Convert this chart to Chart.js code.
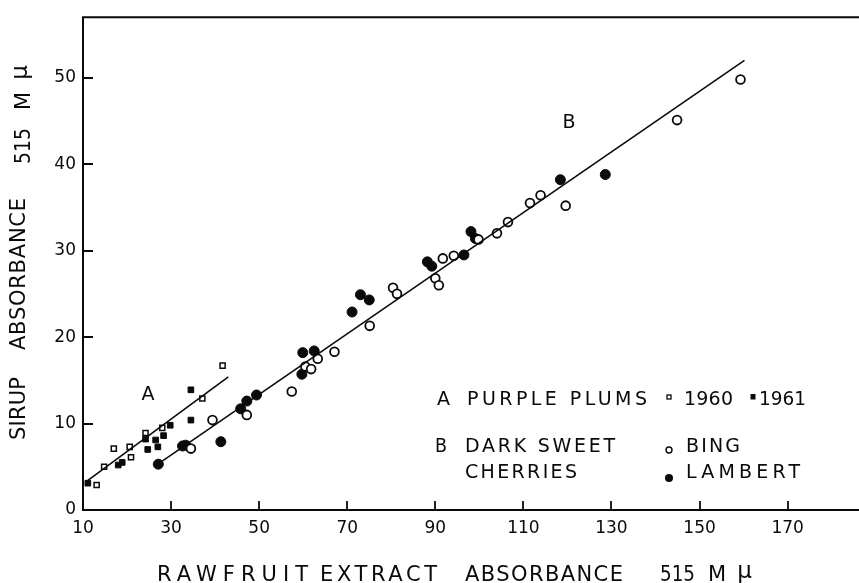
<!DOCTYPE html>
<html>
<head>
<meta charset="utf-8">
<script src="https://cdn.jsdelivr.net/npm/chart.js@4.4.0/dist/chart.umd.min.js"></script>
<style>
  html, body { margin: 0; padding: 0; background: #ffffff; }
  #wrap { width: 859px; height: 583px; position: relative; }
</style>
</head>
<body>
<div id="wrap"><canvas id="c" width="859" height="583"></canvas></div>
<script>
// ---- Data ----
const xTicks = [10, 30, 50, 70, 90, 110, 130, 150, 170];
const yTicks = [0, 10, 20, 30, 40, 50];

// A  Purple plums, 1960 (open squares)
const plums1960X = [13.1, 14.8, 17.0, 20.6, 20.9, 24.2, 28.0, 37.1, 41.7];
const plums1960Y = [2.9, 5.0, 7.1, 7.3, 6.1, 8.9, 9.5, 12.9, 16.7];

// A  Purple plums, 1961 (filled squares)
const plums1961X = [11.1, 18.0, 18.9, 24.2, 24.7, 26.5, 27.0, 28.3, 29.8, 34.5, 34.5];
const plums1961Y = [3.1, 5.2, 5.5, 8.2, 7.0, 8.1, 7.3, 8.6, 9.8, 13.9, 10.4];

// B  Dark sweet cherries, Bing (open circles)
const bingX = [34.5, 39.4, 47.2, 57.4, 60.5, 61.8, 63.3, 67.1, 75.1, 80.4, 81.3, 90.0, 90.8, 91.7, 94.2, 99.8, 104.0, 106.5, 111.5, 113.9, 119.6, 144.9, 159.3];
const bingY = [7.1, 10.4, 11.0, 13.7, 16.6, 16.3, 17.5, 18.3, 21.3, 25.7, 25.0, 26.8, 26.0, 29.1, 29.4, 31.3, 32.0, 33.3, 35.5, 36.4, 35.2, 45.1, 49.8];

// B  Dark sweet cherries, Lambert (filled circles)
const lambertX = [27.1, 32.6, 33.3, 41.3, 45.8, 47.2, 49.4, 59.7, 59.9, 62.5, 71.1, 73.0, 75.0, 88.2, 89.2, 96.5, 98.1, 99.1, 118.4, 128.6];
const lambertY = [5.3, 7.4, 7.5, 7.9, 11.7, 12.6, 13.3, 15.7, 18.2, 18.4, 22.9, 24.9, 24.3, 28.7, 28.2, 29.5, 32.2, 31.4, 38.2, 38.8];

// Fitted lines
const lineAX = [10.5, 43.0];
const lineAY = [3.2, 15.4];
const lineBX = [27.0, 160.2];
const lineBY = [5.3, 52.0];

const pts = (xs, ys) => xs.map((x, i) => ({ x: x, y: ys[i] }));

const FONT = '"DejaVu Sans", "Liberation Sans", sans-serif';
const INK = '#0a0a0a';

function drawFit(ctx, text, x0, x1, y) {
  ctx.letterSpacing = '0px';
  const w = ctx.measureText(text).width;
  const n = text.length;
  const target = x1 - x0;
  ctx.textAlign = 'left';
  if (w >= target || n < 2) {
    ctx.save();
    ctx.translate(x0, y);
    ctx.scale(Math.min(1, target / w), 1);
    ctx.fillText(text, 0, 0);
    ctx.restore();
    return;
  }
  const ls = (target - w) / (n - 1);
  ctx.letterSpacing = ls.toFixed(2) + 'px';
  ctx.fillText(text, x0, y);
  ctx.letterSpacing = '0px';
}

// "Mμ" unit with the mu raised to cap height like the original lettering
function drawMu(ctx, x0, x1, y, size) {
  ctx.font = size + 'px ' + FONT;
  const mw = ctx.measureText('M').width;
  ctx.textAlign = 'left';
  ctx.fillText('M', x0, y);
  ctx.font = (size + 2) + 'px ' + FONT;
  const uw = ctx.measureText('μ').width;
  ctx.fillText('μ', x1 - uw, y - 4);
  ctx.font = size + 'px ' + FONT;
}

const framePlugin = {
  id: 'frame',
  beforeDraw(chart) {
    const ctx = chart.ctx;
    ctx.save();
    ctx.fillStyle = '#ffffff';
    ctx.fillRect(0, 0, chart.width, chart.height);
    ctx.restore();
  },
  afterDraw(chart) {
    const ctx = chart.ctx;
    const a = chart.chartArea;
    const xs = chart.scales.x, ys = chart.scales.y;
    const W = chart.width;
    ctx.save();
    ctx.strokeStyle = INK;
    ctx.lineWidth = 2;
    ctx.lineCap = 'square';
    ctx.beginPath();
    ctx.moveTo(a.left, a.top); ctx.lineTo(W, a.top);
    ctx.moveTo(a.left, a.top); ctx.lineTo(a.left, a.bottom);
    ctx.moveTo(a.left, a.bottom); ctx.lineTo(W, a.bottom);
    ctx.stroke();
    ctx.lineWidth = 1.8;
    ctx.lineCap = 'butt';
    ctx.beginPath();
    xTicks.forEach(v => {
      const px = Math.round(xs.getPixelForValue(v));
      ctx.moveTo(px, a.bottom); ctx.lineTo(px, a.bottom - 9);
    });
    yTicks.forEach(v => {
      const py = Math.round(ys.getPixelForValue(v));
      ctx.moveTo(a.left, py); ctx.lineTo(a.left + 10, py);
    });
    ctx.stroke();

    // Axis titles
    ctx.fillStyle = INK;
    ctx.textBaseline = 'middle';
    ctx.font = '21px ' + FONT;
    drawFit(ctx, 'RAWFRUIT', 157, 308, 576);
    drawFit(ctx, 'EXTRACT', 320, 437, 576);
    drawFit(ctx, 'ABSORBANCE', 465, 623, 576);
    drawFit(ctx, '515', 660, 695, 576);
    drawMu(ctx, 708, 752, 576, 21);

    ctx.save();
    ctx.translate(20, 0);
    ctx.rotate(-Math.PI / 2);
    ctx.font = '21px ' + FONT;
    drawFit(ctx, 'SIRUP', -440, -377, 0);
    drawFit(ctx, 'ABSORBANCE', -350, -198, 0);
    ctx.restore();
    ctx.save();
    ctx.translate(25, 0);
    ctx.rotate(-Math.PI / 2);
    ctx.font = '21px ' + FONT;
    drawFit(ctx, '515', -164, -128, 0);
    drawMu(ctx, -110, -65, 0, 21);
    ctx.restore();

    // Curve labels
    ctx.font = '19px ' + FONT;
    ctx.textAlign = 'center';
    ctx.fillText('A', 148, 395);
    ctx.fillText('B', 569, 123);

    // Legend
    ctx.font = '19px ' + FONT;
    drawFit(ctx, 'A', 437, 450, 400);
    drawFit(ctx, 'PURPLE PLUMS', 467, 647, 400);
    drawFit(ctx, '1960', 684, 733, 400);
    drawFit(ctx, '1961', 759, 806, 400);
    drawFit(ctx, 'B', 435, 447, 447);
    drawFit(ctx, 'DARK SWEET', 465, 615, 447);
    drawFit(ctx, 'CHERRIES', 465, 577, 473);
    drawFit(ctx, 'BING', 686, 740, 447);
    drawFit(ctx, 'LAMBERT', 686, 800, 473);

    // Legend markers
    ctx.lineWidth = 1.3;
    ctx.strokeStyle = INK;
    ctx.strokeRect(667, 395, 4, 4);
    ctx.fillRect(750.5, 394, 5, 5.5);
    ctx.beginPath();
    ctx.arc(669, 450, 3, 0, Math.PI * 2);
    ctx.lineWidth = 1.4;
    ctx.stroke();
    ctx.beginPath();
    ctx.arc(669, 478, 4, 0, Math.PI * 2);
    ctx.fill();
    ctx.restore();
  }
};

const lineStyle = { type: 'line', borderColor: INK, borderWidth: 1.6, pointRadius: 0, fill: false, showLine: true, tension: 0 };

new Chart(document.getElementById('c'), {
  type: 'scatter',
  data: {
    datasets: [
      Object.assign({ label: 'Line A', data: pts(lineAX, lineAY) }, lineStyle),
      Object.assign({ label: 'Line B', data: pts(lineBX, lineBY) }, lineStyle),
      { label: '1960', data: pts(plums1960X, plums1960Y), pointStyle: 'rect', pointRadius: 3.6, backgroundColor: '#ffffff', borderColor: INK, borderWidth: 1.5 },
      { label: '1961', data: pts(plums1961X, plums1961Y), pointStyle: 'rect', pointRadius: 4.0, backgroundColor: INK, borderColor: INK, borderWidth: 1 },
      { label: 'Bing', data: pts(bingX, bingY), pointStyle: 'circle', pointRadius: 4.4, backgroundColor: '#ffffff', borderColor: INK, borderWidth: 1.8 },
      { label: 'Lambert', data: pts(lambertX, lambertY), pointStyle: 'circle', pointRadius: 5, backgroundColor: INK, borderColor: INK, borderWidth: 1 }
    ]
  },
  options: {
    responsive: false,
    animation: false,
    devicePixelRatio: 1,
    layout: { padding: { top: 14, right: 0, bottom: 0, left: 0 } },
    plugins: { legend: { display: false }, tooltip: { enabled: false }, title: { display: false } },
    elements: { point: { hoverRadius: 0 } },
    scales: {
      x: {
        type: 'linear', min: 10, max: 184.8,
        grid: { display: false, drawTicks: false },
        border: { display: false },
        afterBuildTicks: s => { s.ticks = xTicks.map(v => ({ value: v })); },
        afterFit: s => { s.height = 73; },
        ticks: { color: INK, font: { family: FONT, size: 17 }, padding: 8, maxRotation: 0, autoSkip: false, callback: v => String(v) }
      },
      y: {
        type: 'linear', min: 0, max: 57,
        grid: { display: false, drawTicks: false },
        border: { display: false },
        afterBuildTicks: s => { s.ticks = yTicks.map(v => ({ value: v })); },
        afterFit: s => { s.width = 83; },
        ticks: { color: INK, font: { family: FONT, size: 17 }, padding: 7, autoSkip: false, callback: v => String(v) }
      }
    }
  },
  plugins: [framePlugin]
});
</script>
</body>
</html>
